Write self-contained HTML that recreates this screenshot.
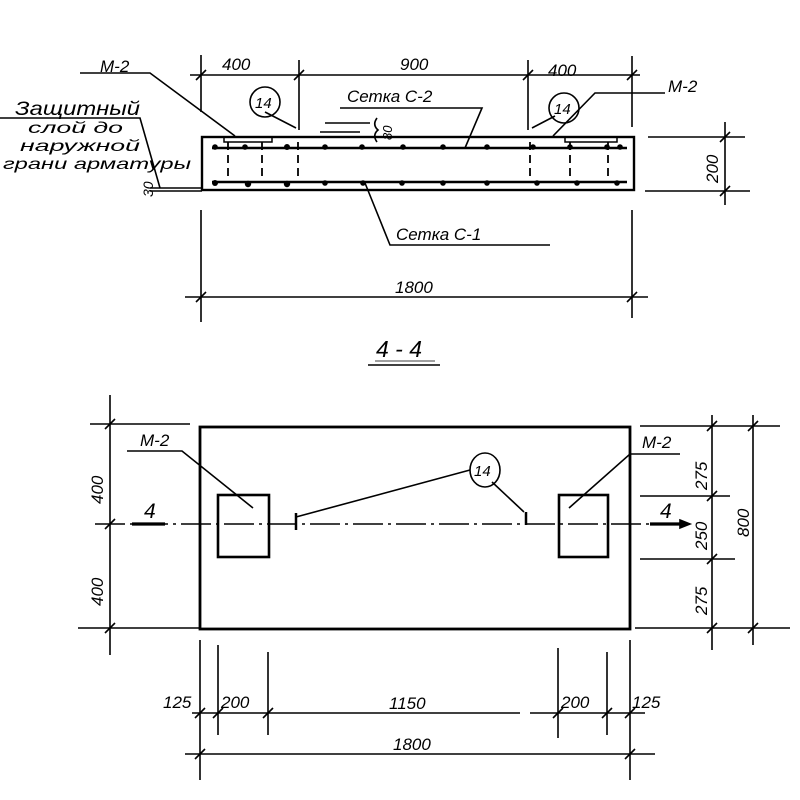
<!DOCTYPE html>
<html><head><meta charset="utf-8"><style>
html,body{margin:0;padding:0;background:#fff;}
svg{display:block}
text{font-family:"Liberation Sans",sans-serif;font-style:italic;fill:#000}
</style></head><body>
<svg width="800" height="800" viewBox="0 0 800 800" xmlns="http://www.w3.org/2000/svg">
<g stroke="#000" fill="none" stroke-width="1.6">
<line x1="190" y1="75" x2="640" y2="75"/>
<line x1="201" y1="55" x2="201" y2="112"/>
<line x1="299" y1="60" x2="299" y2="130"/>
<line x1="528" y1="60" x2="528" y2="130"/>
<line x1="632" y1="56" x2="632" y2="127"/>
<line x1="196" y1="80" x2="206" y2="70"/>
<line x1="294" y1="80" x2="304" y2="70"/>
<line x1="523" y1="80" x2="533" y2="70"/>
<line x1="627" y1="80" x2="637" y2="70"/>
<rect x="202" y="137" width="432" height="53" stroke-width="2.4"/>
<line x1="212" y1="148" x2="627" y2="148" stroke-width="2.6"/>
<line x1="212" y1="182" x2="627" y2="182" stroke-width="2.6"/>
<rect x="224" y="137" width="48" height="5" stroke-width="1.5"/>
<rect x="565" y="137" width="52" height="5" stroke-width="1.5"/>
<g stroke-dasharray="8,5" stroke-width="1.8">
<line x1="228" y1="142" x2="228" y2="182"/>
<line x1="262" y1="142" x2="262" y2="182"/>
<line x1="298" y1="142" x2="298" y2="182"/>
<line x1="530" y1="142" x2="530" y2="182"/>
<line x1="570" y1="142" x2="570" y2="182"/>
<line x1="608" y1="142" x2="608" y2="182"/>
</g>
<line x1="648" y1="137" x2="745" y2="137"/>
<line x1="645" y1="191" x2="750" y2="191"/>
<line x1="725" y1="122" x2="725" y2="205"/>
<line x1="720" y1="142" x2="730" y2="132"/>
<line x1="720" y1="196" x2="730" y2="186"/>
<polyline points="80,73 150,73 235,136"/>
<polyline points="665,93 595,93 553,136"/>
<line x1="265" y1="112" x2="296" y2="128"/>
<line x1="555" y1="116" x2="532" y2="128"/>
<polyline points="340,108 482,108 465,148"/>
<line x1="325" y1="123" x2="370" y2="123"/>
<line x1="320" y1="132" x2="360" y2="132"/>
<path d="M377 118 Q372 125 378 130 Q372 135 377 142"/>
<polyline points="365,183 390,245 550,245"/>
<circle cx="265" cy="102" r="15"/>
<circle cx="564" cy="108" r="15"/>
<polyline points="0,118 140,118 160,188"/>
<line x1="150" y1="188" x2="202" y2="188"/>
<line x1="150" y1="191" x2="202" y2="191"/>
<line x1="185" y1="297" x2="648" y2="297"/>
<line x1="201" y1="210" x2="201" y2="322"/>
<line x1="632" y1="210" x2="632" y2="318"/>
<line x1="196" y1="302" x2="206" y2="292"/>
<line x1="627" y1="302" x2="637" y2="292"/>
<line x1="368" y1="365" x2="440" y2="365"/>
<line x1="375" y1="361" x2="435" y2="361" stroke-width="0.8"/>

<rect x="200" y="427" width="430" height="202" stroke-width="2.8"/>
<rect x="218" y="495" width="51" height="62" stroke-width="2.6"/>
<rect x="559" y="495" width="49" height="62" stroke-width="2.6"/>
<line x1="95" y1="524" x2="690" y2="524" stroke-dasharray="30,5,3,5"/>
<line x1="132" y1="524" x2="165" y2="524" stroke-width="3.2"/>
<line x1="650" y1="524" x2="680" y2="524" stroke-width="3.2"/>
<polygon points="680,520 690,524 680,528" fill="#000"/>
<line x1="296" y1="513" x2="296" y2="530" stroke-width="2.5"/>
<line x1="526" y1="512" x2="526" y2="525" stroke-width="2.5"/>
<line x1="296" y1="517" x2="470" y2="470"/>
<line x1="492" y1="482" x2="524" y2="512"/>
<ellipse cx="485" cy="470" rx="15" ry="17"/>
<polyline points="127,451 182,451 253,508"/>
<polyline points="680,454 630,454 569,508"/>
<line x1="110" y1="395" x2="110" y2="655"/>
<line x1="90" y1="424" x2="190" y2="424"/>
<line x1="78" y1="628" x2="200" y2="628"/>
<line x1="105" y1="429" x2="115" y2="419"/>
<line x1="105" y1="529" x2="115" y2="519"/>
<line x1="105" y1="633" x2="115" y2="623"/>
<line x1="712" y1="415" x2="712" y2="650"/>
<line x1="753" y1="415" x2="753" y2="645"/>
<line x1="640" y1="426" x2="780" y2="426"/>
<line x1="640" y1="496" x2="730" y2="496"/>
<line x1="640" y1="559" x2="735" y2="559"/>
<line x1="635" y1="628" x2="790" y2="628"/>
<line x1="707" y1="431" x2="717" y2="421"/>
<line x1="707" y1="501" x2="717" y2="491"/>
<line x1="707" y1="564" x2="717" y2="554"/>
<line x1="707" y1="633" x2="717" y2="623"/>
<line x1="748" y1="431" x2="758" y2="421"/>
<line x1="748" y1="633" x2="758" y2="623"/>
<line x1="200" y1="640" x2="200" y2="780"/>
<line x1="218" y1="645" x2="218" y2="735"/>
<line x1="268" y1="652" x2="268" y2="735"/>
<line x1="558" y1="648" x2="558" y2="738"/>
<line x1="607" y1="652" x2="607" y2="735"/>
<line x1="630" y1="640" x2="630" y2="780"/>
<line x1="192" y1="713" x2="520" y2="713"/>
<line x1="530" y1="713" x2="645" y2="713"/>
<line x1="185" y1="754" x2="655" y2="754"/>
<line x1="195" y1="718" x2="205" y2="708"/>
<line x1="213" y1="718" x2="223" y2="708"/>
<line x1="263" y1="718" x2="273" y2="708"/>
<line x1="553" y1="718" x2="563" y2="708"/>
<line x1="602" y1="718" x2="612" y2="708"/>
<line x1="625" y1="718" x2="635" y2="708"/>
<line x1="195" y1="759" x2="205" y2="749"/>
<line x1="625" y1="759" x2="635" y2="749"/>
</g>
<g fill="#000">
<circle cx="215" cy="147" r="2.8"/><circle cx="245" cy="147" r="2.8"/><circle cx="287" cy="147" r="3"/><circle cx="325" cy="147" r="2.8"/><circle cx="362" cy="147" r="2.8"/><circle cx="403" cy="147" r="2.8"/><circle cx="443" cy="147" r="2.8"/><circle cx="487" cy="147" r="2.8"/><circle cx="533" cy="147" r="2.8"/><circle cx="570" cy="147" r="2.8"/><circle cx="607" cy="147" r="2.8"/><circle cx="620" cy="147" r="2.8"/>
<circle cx="215" cy="183" r="3"/><circle cx="248" cy="184" r="3.2"/><circle cx="287" cy="184" r="3.2"/><circle cx="325" cy="183" r="2.8"/><circle cx="363" cy="183" r="2.8"/><circle cx="402" cy="183" r="2.8"/><circle cx="443" cy="183" r="2.8"/><circle cx="487" cy="183" r="2.8"/><circle cx="537" cy="183" r="2.8"/><circle cx="577" cy="183" r="2.8"/><circle cx="617" cy="183" r="2.8"/>
</g>
<g font-size="17">
<text x="100" y="72">М-2</text>
<text x="222" y="70">400</text>
<text x="400" y="70">900</text>
<text x="548" y="76">400</text>
<text x="668" y="92">М-2</text>
<text x="255" y="108" font-size="15">14</text>
<text x="554" y="114" font-size="15">14</text>
<text x="347" y="102">Сетка С-2</text>
<text x="0" y="0" font-size="13" transform="translate(392,140) rotate(-90)">80</text>
<text x="396" y="240">Сетка С-1</text>
<text x="0" y="0" transform="translate(718,183) rotate(-90)">200</text>
<text x="15" y="115" font-size="19" textLength="125" lengthAdjust="spacingAndGlyphs">Защитный</text>
<text x="28" y="133" font-size="16" textLength="95" lengthAdjust="spacingAndGlyphs">слой до</text>
<text x="20" y="151" font-size="16" textLength="120" lengthAdjust="spacingAndGlyphs">наружной</text>
<text x="3" y="169" font-size="16" textLength="188" lengthAdjust="spacingAndGlyphs">грани арматуры</text>
<text x="0" y="0" font-size="14" transform="translate(153,197) rotate(-90)">30</text>
<text x="395" y="293">1800</text>
<text x="376" y="357" font-size="23">4 - 4</text>
<text x="140" y="446">М-2</text>
<text x="642" y="448">М-2</text>
<text x="474" y="476" font-size="15">14</text>
<text x="144" y="518" font-size="21">4</text>
<text x="660" y="518" font-size="21">4</text>
<text x="0" y="0" transform="translate(103,504) rotate(-90)">400</text>
<text x="0" y="0" transform="translate(103,606) rotate(-90)">400</text>
<text x="0" y="0" transform="translate(707,490) rotate(-90)">275</text>
<text x="0" y="0" transform="translate(707,550) rotate(-90)">250</text>
<text x="0" y="0" transform="translate(707,615) rotate(-90)">275</text>
<text x="0" y="0" transform="translate(749,537) rotate(-90)">800</text>
<text x="163" y="708">125</text>
<text x="221" y="708">200</text>
<text x="389" y="709">1150</text>
<text x="561" y="708">200</text>
<text x="632" y="708">125</text>
<text x="393" y="750">1800</text>
</g>
</svg>
</body></html>
